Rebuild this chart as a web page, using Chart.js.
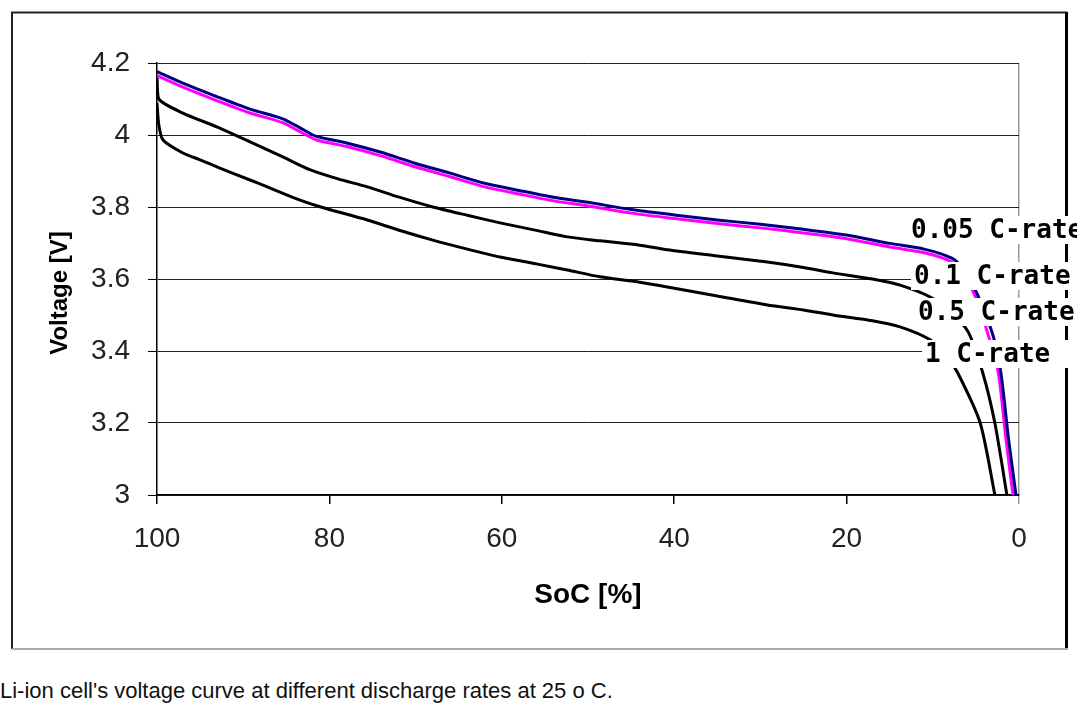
<!DOCTYPE html>
<html>
<head>
<meta charset="utf-8">
<title>Li-ion discharge curves</title>
<script src="https://cdn.jsdelivr.net/npm/chart.js@4.4.0/dist/chart.umd.min.js"></script>
<style>
    body { margin: 0; background: #fff; width: 1077px; height: 712px; overflow: hidden; position: relative; }
    #voltChart { position: absolute; left: 0; top: 0; }
    .caption { position: absolute; left: 0; top: 680px; font: 22px "Liberation Sans", Arial, sans-serif; line-height: 22px; color: #111; white-space: nowrap; }
</style>
</head>
<body>
<canvas id="voltChart" width="1077" height="660"></canvas>
<div class="caption">Li-ion cell's voltage curve at different discharge rates at 25 o C.</div>

<script>
// values, SoC in %, voltage in V
const rateNames = ["0.05 C-rate", "0.1 C-rate", "0.5 C-rate", "1 C-rate"];

const soc005 = [100, 97, 93, 89.2, 85.4, 83.4, 81.5, 78, 74, 70, 66, 62, 58, 54, 50, 45, 40, 35, 30, 25, 20, 15, 11, 7.8, 6.5, 4.8, 3.0, 2.1, 1.2, 0.35];
const volt005 = [4.176, 4.144, 4.106, 4.072, 4.045, 4.02, 3.996, 3.978, 3.952, 3.921, 3.894, 3.866, 3.846, 3.827, 3.813, 3.793, 3.778, 3.764, 3.752, 3.738, 3.722, 3.699, 3.683, 3.658, 3.63, 3.556, 3.442, 3.339, 3.153, 3.0];

const soc01 = [100, 97, 93, 89.2, 85.4, 83.4, 81.5, 78, 74, 70, 66, 62, 58, 54, 50, 45, 40, 35, 30, 25, 20, 15, 11, 8.0, 6.7, 5.3, 3.6, 2.4, 1.5, 0.7];
const volt01 = [4.165, 4.133, 4.095, 4.061, 4.034, 4.009, 3.986, 3.968, 3.942, 3.911, 3.884, 3.856, 3.836, 3.817, 3.803, 3.783, 3.768, 3.754, 3.742, 3.728, 3.712, 3.689, 3.673, 3.65, 3.62, 3.564, 3.447, 3.339, 3.153, 3.0];

const soc05 = [100, 99.8, 97, 93, 89.2, 85.4, 82.2, 79, 75.6, 72, 68, 64, 60.2, 56, 52.4, 48.6, 44, 40.8, 35, 29.2, 25, 21.6, 17, 13.8, 10.3, 8, 5.9, 4.2, 2.8, 1.4];
const volt05 = [4.16, 4.10, 4.061, 4.022, 3.981, 3.939, 3.903, 3.878, 3.856, 3.828, 3.8, 3.777, 3.756, 3.735, 3.717, 3.706, 3.694, 3.681, 3.664, 3.647, 3.632, 3.617, 3.6, 3.583, 3.55, 3.51, 3.453, 3.339, 3.2, 3.0];

const soc1 = [100, 99.8, 99.3, 97, 95, 93, 89.2, 87.2, 83.4, 81, 75.6, 72, 68, 64, 60.2, 56, 52.4, 48.6, 44, 40.8, 35, 29.2, 25, 21.6, 17, 13.8, 10.3, 8.5, 7.1, 4.5, 2.8];
const volt1 = [4.09, 4.03, 3.986, 3.95, 3.931, 3.911, 3.875, 3.856, 3.819, 3.8, 3.764, 3.736, 3.708, 3.683, 3.661, 3.642, 3.625, 3.606, 3.591, 3.578, 3.553, 3.528, 3.514, 3.5, 3.484, 3.467, 3.431, 3.39, 3.339, 3.2, 3.0];

const voltTicks = [3, 3.2, 3.4, 3.6, 3.8, 4, 4.2];
const socTicks = [0, 20, 40, 60, 80, 100];

function toPoints(xs, ys) {
    return xs.map((x, i) => ({ x: x, y: ys[i] }));
}

// where the rate names sit on the plot (left edge, middle)
const labelSpots = [[911, 230], [914, 276], [918, 312], [925, 354]];

const frameAndLabels = {
    id: 'frameAndLabels',
    afterDraw(chart) {
        const ctx = chart.ctx;
        ctx.save();

        // picture frame
        ctx.lineWidth = 2;
        ctx.strokeStyle = '#222';
        ctx.beginPath();
        ctx.moveTo(12, 649); ctx.lineTo(12, 12.5); ctx.lineTo(1067, 12.5);
        ctx.stroke();
        ctx.lineWidth = 3;
        ctx.strokeStyle = '#000';
        ctx.beginPath();
        ctx.moveTo(1066.5, 12); ctx.lineTo(1066.5, 649);
        ctx.stroke();
        ctx.lineWidth = 2;
        ctx.strokeStyle = '#aaa';
        ctx.beginPath();
        ctx.moveTo(12, 649); ctx.lineTo(1068, 649);
        ctx.stroke();

        // y title, a bit below the middle like the original
        ctx.fillStyle = '#000';
        ctx.font = 'bold 24px "Liberation Sans", Arial, sans-serif';
        ctx.textAlign = 'center';
        ctx.textBaseline = 'middle';
        ctx.translate(60, 293);
        ctx.rotate(-Math.PI / 2);
        ctx.fillText('Voltage [V]', 0, 0);
        ctx.setTransform(1, 0, 0, 1, 0, 0);

        // rate labels on white boxes, over curves and frame
        ctx.font = 'bold 26px "DejaVu Sans Mono", monospace';
        ctx.textAlign = 'left';
        chart.data.datasets.forEach((ds, i) => {
            const [lx, ly] = labelSpots[i];
            ctx.fillStyle = '#fff';
            ctx.fillRect(lx - 3, ly - 14, 1077 - lx + 3, 28);
            ctx.fillStyle = '#000';
            ctx.fillText(ds.label, lx, ly + 1);
        });
        ctx.restore();
    }
};

const lineStyle = { borderWidth: 3, pointRadius: 0, tension: 0.25, fill: false };
const tickFont = { family: '"Liberation Sans", Arial', size: 28 };

new Chart(document.getElementById('voltChart'), {
    type: 'line',
    data: {
        datasets: [
            { label: rateNames[0], data: toPoints(soc005, volt005), borderColor: '#000080', ...lineStyle },
            { label: rateNames[1], data: toPoints(soc01, volt01), borderColor: '#ff00ff', ...lineStyle },
            { label: rateNames[2], data: toPoints(soc05, volt05), borderColor: '#000000', ...lineStyle },
            { label: rateNames[3], data: toPoints(soc1, volt1), borderColor: '#000000', ...lineStyle }
        ]
    },
    options: {
        responsive: false,
        animation: false,
        layout: { padding: { top: 63, right: 58, left: 0, bottom: 0 } },
        plugins: {
            legend: { display: false },
            tooltip: { enabled: false }
        },
        scales: {
            x: {
                type: 'linear',
                reverse: true,
                min: 0,
                max: 100,
                afterFit: (scale) => { scale.height = 165; },
                afterBuildTicks: (scale) => { scale.ticks = socTicks.map(v => ({ value: v })); },
                ticks: { padding: 18, color: '#222', font: tickFont, callback: (v) => String(v) },
                grid: {
                    color: (c) => c.tick && c.tick.value === 0 ? '#999' : 'rgba(0,0,0,0)',
                    tickColor: (c) => c.tick && c.tick.value === 0 ? '#999' : '#000',
                    tickLength: 9,
                    lineWidth: 1.5
                },
                border: { color: '#000', width: 1.5 },
                title: {
                    display: true,
                    text: 'SoC [%]',
                    color: '#000',
                    font: { family: '"Liberation Sans", Arial', size: 28, weight: 'bold' },
                    padding: { top: 0, bottom: 48 }
                }
            },
            y: {
                min: 3,
                max: 4.2,
                afterFit: (scale) => { scale.width = 157; },
                afterBuildTicks: (scale) => { scale.ticks = voltTicks.map(v => ({ value: v })); },
                ticks: { padding: 18, color: '#222', font: tickFont, callback: (v) => String(+v.toFixed(1)) },
                grid: { color: '#222', lineWidth: 1, tickLength: 9, tickColor: '#000' },
                border: { color: '#000', width: 1.5 }
            }
        }
    },
    plugins: [frameAndLabels]
});
</script>
</body>
</html>
